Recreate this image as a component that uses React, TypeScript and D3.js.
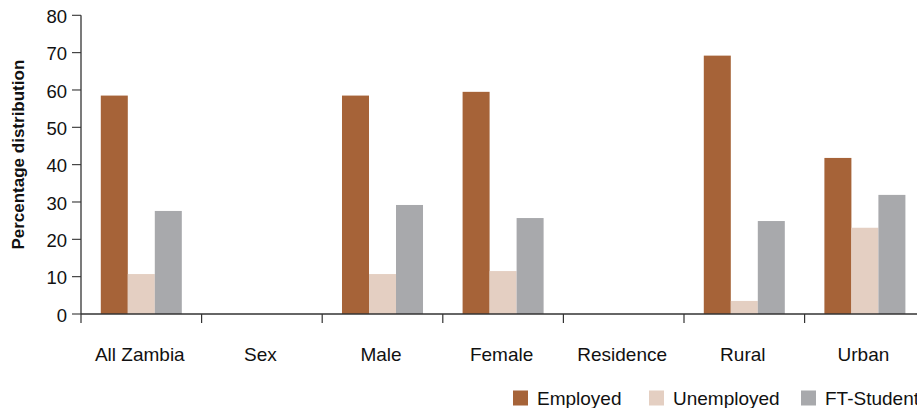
import React from "react";
import * as d3 from "d3";

const categories = ["All Zambia", "Sex", "Male", "Female", "Residence", "Rural", "Urban"];
const seriesNames = ["Employed", "Unemployed", "FT-Student"];
const employed: (number | null)[] = [58.5, null, 58.5, 59.5, null, 69.2, 41.8];
const unemployed: (number | null)[] = [10.7, null, 10.7, 11.5, null, 3.5, 23.1];
const ftStudent: (number | null)[] = [27.6, null, 29.2, 25.7, null, 24.9, 31.9];
const yTicks = [0, 10, 20, 30, 40, 50, 60, 70, 80];
const colors = ["#A66338", "#E4CFC2", "#A8A9AC"];

const W = 917;
const H = 408;
const left = 81;
const bandStep = 120.6;
const top = 15.3;
const bottom = 314;

export default function App() {
  const x0 = d3
    .scaleBand<string>()
    .domain(categories)
    .range([left, left + bandStep * categories.length])
    .paddingInner(0)
    .paddingOuter(0);
  const x1 = d3
    .scaleBand<string>()
    .domain(seriesNames)
    .range([0, x0.bandwidth()])
    .paddingInner(0)
    .paddingOuter(0.733);
  const y = d3.scaleLinear().domain([0, 80]).range([bottom, top]);
  const seriesValues = [employed, unemployed, ftStudent];
  const font = "Liberation Sans, Arial, sans-serif";

  const legendItems = [
    { name: seriesNames[0], sx: 513, tx: 537 },
    { name: seriesNames[1], sx: 649, tx: 673 },
    { name: seriesNames[2], sx: 801, tx: 825 },
  ];

  return (
    <svg
      width={W}
      height={H}
      style={{ position: "absolute", top: 0, left: 0, background: "#fff" }}
      fontFamily={font}
    >
      {/* bars */}
      {categories.map((c, i) => (
        <g key={c} transform={`translate(${x0(c)},0)`}>
          {seriesNames.map((s, j) => {
            const v = seriesValues[j][i];
            if (v == null) return null;
            return (
              <rect
                key={s}
                x={x1(s)}
                y={y(v)}
                width={x1.bandwidth()}
                height={y(0) - y(v)}
                fill={colors[j]}
              />
            );
          })}
        </g>
      ))}

      {/* y axis */}
      <line x1={left} x2={left} y1={y(80)} y2={y(0)} stroke="#333" strokeWidth={1.3} />
      {yTicks.map((t) => (
        <g key={t}>
          <line x1={left - 9} x2={left} y1={y(t)} y2={y(t)} stroke="#333" strokeWidth={1.1} />
          <text
            x={left - 14}
            y={y(t) + 1}
            dy="0.36em"
            textAnchor="end"
            fontSize={18.5}
            fill="#111"
          >
            {t}
          </text>
        </g>
      ))}
      <text
        transform={`translate(23.5,${(y(0) + y(80)) / 2 - 10}) rotate(-90)`}
        textAnchor="middle"
        fontSize={17}
        fontWeight="bold"
        fill="#111"
      >
        Percentage distribution
      </text>

      {/* x axis */}
      <line x1={left} x2={W} y1={y(0)} y2={y(0)} stroke="#333" strokeWidth={1.6} />
      {categories.map((c) => (
        <line
          key={"t" + c}
          x1={x0(c) as number}
          x2={x0(c) as number}
          y1={y(0)}
          y2={y(0) + 9}
          stroke="#333"
          strokeWidth={1.2}
        />
      ))}
      {categories.map((c) => (
        <text
          key={"l" + c}
          x={(x0(c) as number) + x0.bandwidth() / 2 - 1.5}
          y={361}
          textAnchor="middle"
          fontSize={19}
          fill="#111"
        >
          {c}
        </text>
      ))}

      {/* legend */}
      {legendItems.map((it, j) => (
        <g key={it.name}>
          <rect x={it.sx} y={390.5} width={15} height={15} fill={colors[j]} />
          <text x={it.tx} y={405} fontSize={19} fill="#111">
            {it.name}
          </text>
        </g>
      ))}
    </svg>
  );
}
